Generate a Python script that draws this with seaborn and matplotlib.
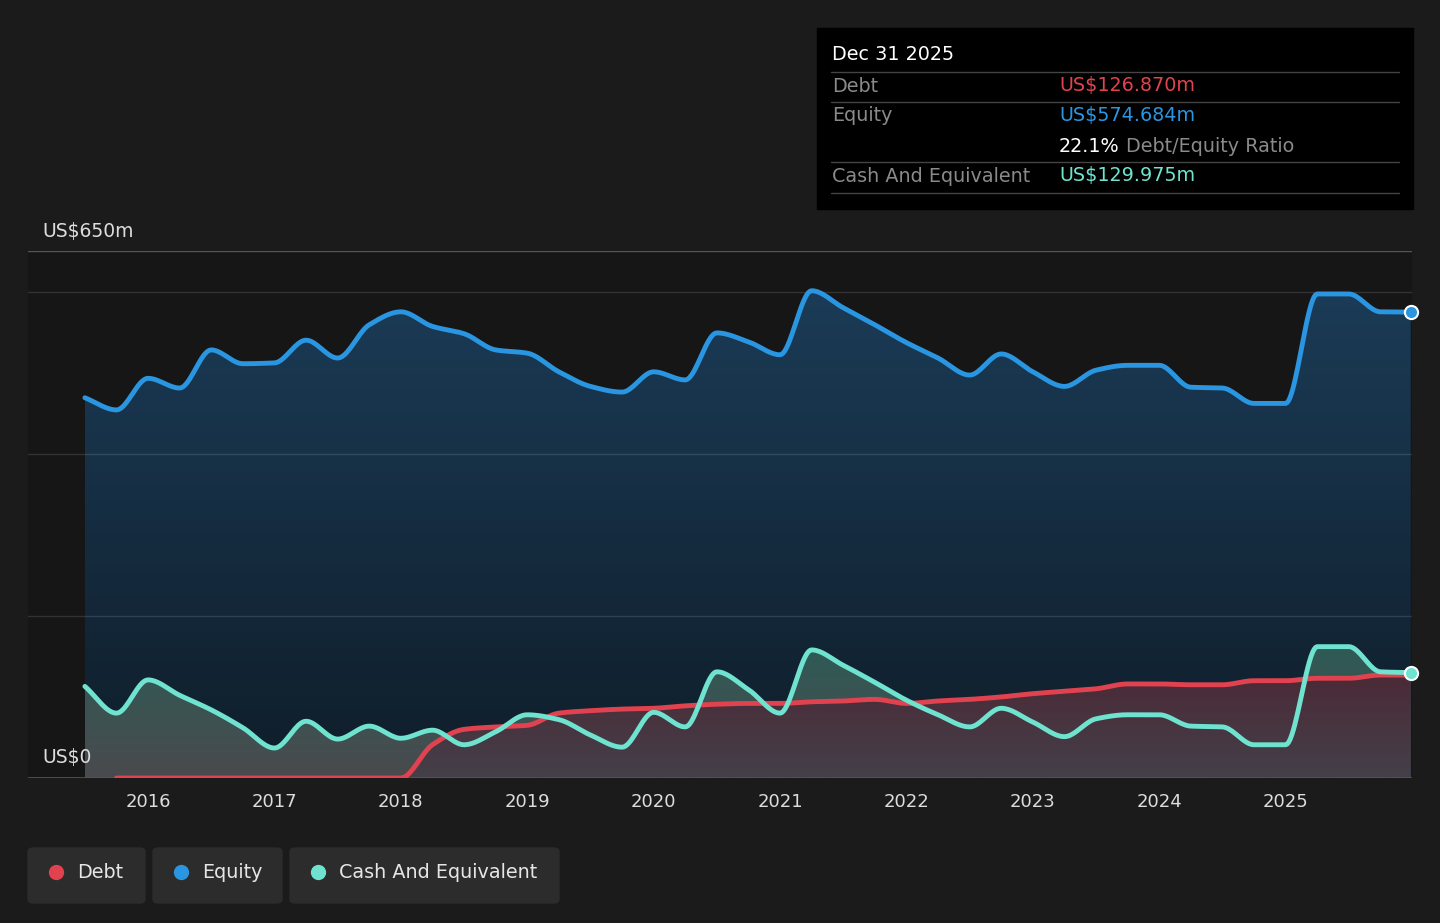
import numpy as np
import matplotlib
matplotlib.use("Agg")
import matplotlib.pyplot as plt
import seaborn as sns
from matplotlib.patches import FancyBboxPatch, Rectangle

sns.set_theme(style="dark")
plt.rcParams['font.family'] = ['DejaVu Sans']

t = [2015.5, 2015.75, 2016.0, 2016.25, 2016.5, 2016.75, 2017.0, 2017.25, 2017.5, 2017.75,
     2018.0, 2018.25, 2018.5, 2018.75, 2019.0, 2019.25, 2019.5, 2019.75, 2020.0, 2020.25,
     2020.5, 2020.75, 2021.0, 2021.25, 2021.5, 2021.75, 2022.0, 2022.25, 2022.5, 2022.75,
     2023.0, 2023.25, 2023.5, 2023.75, 2024.0, 2024.25, 2024.5, 2024.75, 2025.0, 2025.25,
     2025.5, 2025.75, 2025.99]
equity = [469, 454, 493, 481, 528, 511, 512, 540, 518, 559, 575, 557, 548, 528, 524, 501, 483,
          476, 501, 491, 549, 538, 522, 601, 580, 559, 537, 518, 497, 523, 501, 483, 503, 509,
          509, 482, 481, 462, 462, 597, 597, 575, 574.684]
cash = [113, 80, 121, 102, 84, 62, 37, 70, 48, 64, 49, 59, 41, 57, 78, 72, 53, 38, 81, 63,
        131, 109, 80, 158, 139, 118, 96, 78, 63, 86, 69, 51, 73, 78, 78, 64, 63, 41, 41, 162,
        162, 131, 129.975]
debt_t = t[1:]
debt = [0, 0, 0, 0, 0, 0, 0, 0, 0, 0, 41, 60, 63, 65, 80, 83, 85, 86, 89, 91, 92, 92, 94, 95,
        97, 92, 95, 97, 100, 104, 107, 110, 116, 116, 115, 115, 120, 120, 123, 123, 127, 126.87]
years = list(range(2016, 2026))


def smooth(x, y, n=20):
    x = np.asarray(x, float); y = np.asarray(y, float)
    h = np.diff(x); d = np.diff(y) / h
    m = np.zeros_like(y)
    m[0], m[-1] = d[0], d[-1]
    for i in range(1, len(y) - 1):
        if d[i - 1] * d[i] > 0:
            w1 = 2 * h[i] + h[i - 1]; w2 = h[i] + 2 * h[i - 1]
            m[i] = (w1 + w2) / (w1 / d[i - 1] + w2 / d[i])
    xs, ys = [], []
    for i in range(len(x) - 1):
        s = np.linspace(0, 1, n, endpoint=False)
        h00 = 2 * s**3 - 3 * s**2 + 1; h10 = s**3 - 2 * s**2 + s
        h01 = -2 * s**3 + 3 * s**2; h11 = s**3 - s**2
        xs.append(x[i] + s * h[i])
        ys.append(h00 * y[i] + h10 * h[i] * m[i] + h01 * y[i + 1] + h11 * h[i] * m[i + 1])
    xs.append([x[-1]]); ys.append([y[-1]])
    return np.concatenate(xs), np.concatenate(ys)


fig = plt.figure(figsize=(14.4, 9.23), dpi=100, facecolor="#1b1b1b")
ax = fig.add_axes([28 / 1440, 1 - 778 / 923, 1384 / 1440, 527 / 923])
ax.set_facecolor("#161616")
ax.set_xlim(2015.05, 2026.0)
ax.set_ylim(0, 650)


def grad_fill(x, y, top, bot, ymax, z):
    poly = ax.fill_between(x, y, 0, color="none", zorder=z)
    img = np.zeros((100, 1, 4))
    top = np.array(matplotlib.colors.to_rgba(top)); bot = np.array(matplotlib.colors.to_rgba(bot))
    for i in range(100):
        f = i / 99
        img[i, 0] = top * (1 - f) + bot * f
    im = ax.imshow(img, extent=[x.min(), x.max(), 0, ymax], aspect="auto", origin="upper", zorder=z)
    im.set_clip_path(poly.get_paths()[0], transform=ax.transData)


ex, ey = smooth(t, equity)
cx, cy = smooth(t, cash)
dx, dy = smooth(debt_t, debt)
grad_fill(ex, ey, "#1b3b56", "#0f1d29", 600, 1)
grad_fill(cx, cy, "#2f5a55", "#4a4a4e", 160, 2)
grad_fill(dx, dy, "#4b2a36", "#44404a", 130, 3)

for v in [200, 400, 600]:
    ax.axhline(v, color="#ffffff", alpha=0.12, lw=1, zorder=4)
ax.axhline(650, color="#555555", lw=1, zorder=4)
ax.axhline(0, color="#555555", lw=1.2, zorder=4)

sns.lineplot(x=dx, y=dy, color="#e0434f", lw=3.5, ax=ax, zorder=5, sort=False)
sns.lineplot(x=cx, y=cy, color="#6fe3cf", lw=3.5, ax=ax, zorder=6, sort=False)
sns.lineplot(x=ex, y=ey, color="#2a95e0", lw=3.5, ax=ax, zorder=7, sort=False)
ax.scatter([t[-1]], [equity[-1]], s=90, color="#2a95e0", edgecolor="white", lw=1.5, zorder=9, clip_on=False)
ax.scatter([t[-1]], [cash[-1]], s=90, color="#6fe3cf", edgecolor="white", lw=1.5, zorder=9, clip_on=False)

ax.set_xticks(years)
ax.set_xticklabels([str(y) for y in years], color="#dddddd", fontsize=13)
ax.tick_params(axis="x", length=5, color="#555555", pad=6)
ax.set_yticks([])
ax.set_xlabel(""); ax.set_ylabel("")
for s in ax.spines.values():
    s.set_visible(False)

fig.text(42 / 1440, 1 - 231 / 923, "US$650m", color="#dddddd", fontsize=13.5, va="center")
fig.text(42 / 1440, 1 - 757 / 923, "US$0", color="#dddddd", fontsize=13.5, va="center")

# tooltip
fig.patches.append(Rectangle((817 / 1440, 1 - 209 / 923), 596 / 1440, 181 / 923,
                             transform=fig.transFigure, color="black", zorder=1))
fig.text(832 / 1440, 1 - 55 / 923, "Dec 31 2025", color="white", fontsize=13.8, va="center")
for yy in [72, 102, 162, 193]:
    fig.add_artist(plt.Line2D([831 / 1440, 1399 / 1440], [1 - yy / 923] * 2, color="#444444", lw=1))
rows = [(86, "Debt", "US$126.870m", "#e0434f"), (116, "Equity", "US$574.684m", "#2a95e0"),
        (176, "Cash And Equivalent", "US$129.975m", "#6fe3cf")]
for yy, lab, val, col in rows:
    fig.text(832 / 1440, 1 - yy / 923, lab, color="#8a8a8a", fontsize=13.8, va="center")
    fig.text(1059 / 1440, 1 - yy / 923, val, color=col, fontsize=13.8, va="center")
fig.text(1059 / 1440, 1 - 146 / 923, "22.1%", color="white", fontsize=13.8, va="center")
fig.text(1126 / 1440, 1 - 146 / 923, "Debt/Equity Ratio", color="#8a8a8a", fontsize=13.8, va="center")

# legend
items = [(28, 145, "Debt", "#e0434f"), (153, 282, "Equity", "#2a95e0"),
         (290, 559, "Cash And Equivalent", "#6fe3cf")]
for x0, x1, lab, col in items:
    fig.patches.append(FancyBboxPatch((x0 / 1440, 1 - 903 / 923), (x1 - x0) / 1440, 55 / 923,
                                      boxstyle="round,pad=0,rounding_size=0.004",
                                      transform=fig.transFigure, color="#2c2c2c"))
    fig.add_artist(plt.Line2D([(x0 + 28) / 1440], [1 - 872 / 923], marker="o", ms=10,
                              color=col, lw=0))
    fig.text((x0 + 49) / 1440, 1 - 872 / 923, lab, color="#e6e6e6", fontsize=13.8, va="center")

fig.savefig("out.png", dpi=100, facecolor=fig.get_facecolor())
